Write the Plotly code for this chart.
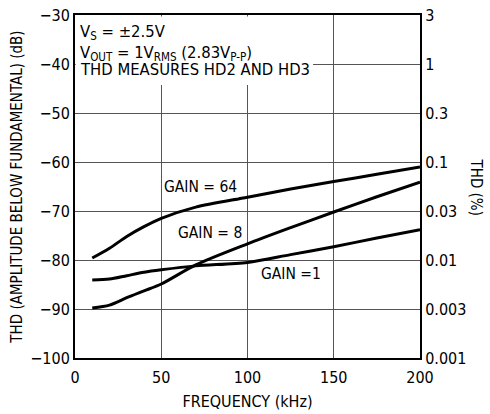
import plotly.graph_objects as go

FONT = "Liberation Sans Narrow, Arial Narrow, DejaVu Sans Condensed, Liberation Sans, sans-serif"

freq_khz = [10, 20, 30, 40, 50, 70, 100, 125, 150, 175, 200]
gain64_db = [-79.6, -77.6, -75.2, -73.2, -71.5, -69.2, -67.2, -65.5, -64.0, -62.5, -61.0]
gain8_db = [-89.8, -89.2, -87.7, -86.3, -84.9, -81.0, -76.7, -73.4, -70.2, -67.1, -64.1]
gain1_db = [-84.1, -83.9, -83.2, -82.5, -82.0, -81.2, -80.5, -78.9, -77.3, -75.5, -73.8]

left_ticks = [-100, -90, -80, -70, -60, -50, -40, -30]
right_tick_text = ["0.001", "0.003", "0.01", "0.03", "0.1", "0.3", "1", "3"]
x_ticks = [0, 50, 100, 150, 200]

labels = [("GAIN = 64", 73, -65.1), ("GAIN = 8", 78, -74.5), ("GAIN =1", 125, -82.9)]

FS = 16

fig = go.Figure()
for ys in (gain64_db, gain8_db, gain1_db):
    fig.add_trace(go.Scatter(x=freq_khz, y=ys, mode="lines",
                             line=dict(color="black", width=3, shape="spline", smoothing=0.8),
                             showlegend=False, hoverinfo="skip"))
# dummy trace for right axis
fig.add_trace(go.Scatter(x=[None], y=[None], yaxis="y2", showlegend=False))

axis_common = dict(showline=True, linecolor="black", linewidth=2,
                   zeroline=False, ticks="", automargin=False,
                   ticklabeloverflow="allow",
                   tickfont=dict(family=FONT, size=FS, color="black"))

fig.update_layout(
    width=490, height=414,
    margin=dict(l=75, r=70, t=15, b=56),
    paper_bgcolor="white", plot_bgcolor="white",
    font=dict(family=FONT, size=FS, color="black"),
    xaxis=dict(range=[0, 200], tickvals=x_ticks, mirror=True,
               gridcolor="#555555", gridwidth=1, ticklabelstandoff=4,
               title=dict(text="FREQUENCY (kHz)", font=dict(family=FONT, size=FS), standoff=10),
               **axis_common),
    yaxis=dict(range=[-100, -30], tickvals=left_ticks,
               ticktext=["\u2212" + str(abs(v)) for v in left_ticks],
               gridcolor="#555555", gridwidth=1,
               title=dict(text="THD (AMPLITUDE BELOW FUNDAMENTAL) (dB)",
                          font=dict(family=FONT, size=15), standoff=4),
               **axis_common),
    yaxis2=dict(range=[-100, -30], overlaying="y", side="right",
                tickvals=left_ticks, ticktext=right_tick_text,
                showgrid=False, **axis_common),
)

fig.add_shape(type="rect", xref="x", yref="y", x0=0.4, x1=138, y0=-44.3, y1=-30.3,
              fillcolor="white", line=dict(width=0), layer="between")

notes = ["V<sub>S</sub> = \u00b12.5V",
         "V<sub>OUT</sub> = 1V<sub>RMS</sub> (2.83V<sub>P-P</sub>)",
         "THD MEASURES HD2 AND HD3"]
note_y = [-33.5, -37.9, -41.1]
for t, yv in zip(notes, note_y):
    fig.add_annotation(x=1.6, y=yv, xref="x", yref="y", text=t, showarrow=False,
                       xanchor="left", yanchor="middle",
                       font=dict(family=FONT, size=16.5, color="black"))

for t, xv, yv in labels:
    fig.add_annotation(x=xv, y=yv, xref="x", yref="y", text=t, showarrow=False,
                       bgcolor="white", font=dict(family=FONT, size=15.5, color="black"))

fig.add_annotation(x=1, y=0.5, xref="paper", yref="paper", xanchor="center", yanchor="middle",
                   xshift=56, text="THD (%)", textangle=90, showarrow=False,
                   font=dict(family=FONT, size=15, color="black"))

fig.write_html("out.html", config={"displayModeBar": False},
               post_script="document.body.style.margin='0';")
